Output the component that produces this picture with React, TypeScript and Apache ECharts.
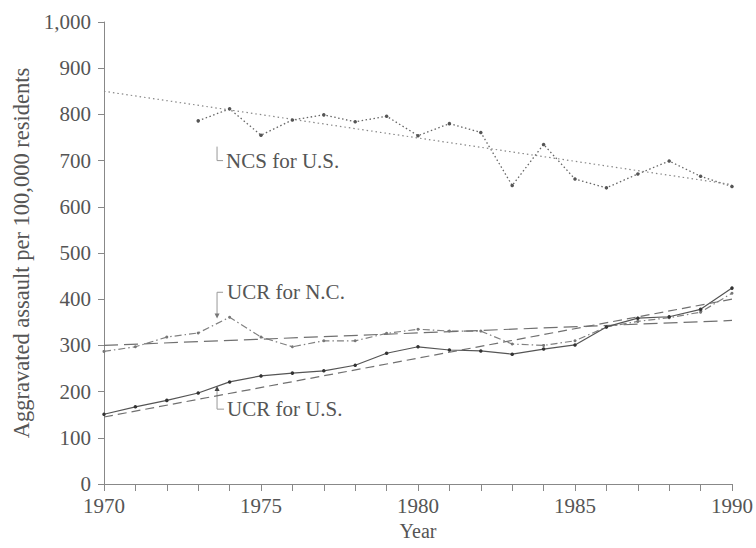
import React, { useEffect, useRef } from "react";
import * as echarts from "echarts";

const years = [1970, 1971, 1972, 1973, 1974, 1975, 1976, 1977, 1978, 1979, 1980, 1981, 1982, 1983, 1984, 1985, 1986, 1987, 1988, 1989, 1990];
const ncsYears = [1973, 1974, 1975, 1976, 1977, 1978, 1979, 1980, 1981, 1982, 1983, 1984, 1985, 1986, 1987, 1988, 1989, 1990];
const ncsUS = [786, 812, 755, 788, 799, 784, 796, 754, 780, 761, 646, 735, 660, 641, 671, 699, 666, 644];
const ucrNC = [287, 297, 318, 327, 361, 318, 297, 310, 310, 326, 335, 331, 331, 303, 300, 310, 340, 352, 360, 372, 413];
const ucrUS = [151, 167, 181, 197, 221, 234, 240, 245, 257, 283, 297, 290, 288, 281, 292, 301, 340, 359, 362, 378, 424];
const ncsTrend = [[1970, 850], [1990, 648]];
const ncTrend = [[1970, 300], [1990, 354]];
const usTrend = [[1970, 145], [1990, 400]];
const yTicks = [0, 100, 200, 300, 400, 500, 600, 700, 800, 900, 1000];

const FONT = "Liberation Serif";
const INK = "#555555";

export default function App() {
  const ref = useRef<HTMLDivElement>(null);
  useEffect(() => {
    if (!ref.current) return;
    const chart = echarts.init(ref.current, null, { renderer: "svg" });
    const option: any = {
      animation: false,
      backgroundColor: "#ffffff",
      textStyle: { fontFamily: FONT },
      grid: { left: 104, right: 21, top: 22, bottom: 64 },
      xAxis: {
        type: "value",
        min: 1970,
        max: 1990,
        interval: 1,
        name: "Year",
        nameLocation: "middle",
        nameGap: 36,
        nameTextStyle: { fontFamily: FONT, fontSize: 20, color: INK },
        axisLine: { lineStyle: { color: "#888", width: 1 } },
        axisTick: { length: 7, lineStyle: { color: "#888" } },
        axisLabel: {
          fontFamily: FONT,
          fontSize: 21,
          color: INK,
          margin: 11,
          formatter: (v: number) => (v % 5 === 0 ? String(v) : ""),
        },
        splitLine: { show: false },
      },
      yAxis: {
        type: "value",
        min: 0,
        max: 1000,
        interval: 100,
        name: "Aggravated assault per 100,000 residents",
        nameLocation: "middle",
        nameGap: 69,
        nameTextStyle: { fontFamily: FONT, fontSize: 22.5, color: INK },
        axisLine: { show: true, lineStyle: { color: "#888", width: 1 } },
        axisTick: { show: true, length: 6, lineStyle: { color: "#888" } },
        axisLabel: {
          fontFamily: FONT,
          fontSize: 21,
          color: INK,
          margin: 13,
          formatter: (v: number) => (yTicks.includes(v) ? v.toLocaleString("en-US") : ""),
        },
        splitLine: { show: false },
      },
      series: [
        {
          name: "NCS for U.S.",
          type: "line",
          data: ncsYears.map((y, i) => [y, ncsUS[i]]),
          symbol: "circle",
          symbolSize: 3.5,
          itemStyle: { color: "#555" },
          lineStyle: { color: "#666", width: 1.3, type: [1.5, 2.5] },
        },
        {
          name: "NCS trend",
          type: "line",
          data: ncsTrend,
          symbol: "none",
          lineStyle: { color: "#888", width: 1.2, type: [1.5, 3] },
        },
        {
          name: "UCR for N.C.",
          type: "line",
          data: years.map((y, i) => [y, ucrNC[i]]),
          symbol: "circle",
          symbolSize: 3,
          itemStyle: { color: "#777" },
          lineStyle: { color: "#808080", width: 1.2, type: [7, 3, 1.5, 3] },
        },
        {
          name: "N.C. trend",
          type: "line",
          data: ncTrend,
          symbol: "none",
          lineStyle: { color: "#707070", width: 1.2, type: [14, 6] },
        },
        {
          name: "UCR for U.S.",
          type: "line",
          data: years.map((y, i) => [y, ucrUS[i]]),
          symbol: "circle",
          symbolSize: 3.5,
          itemStyle: { color: "#333" },
          lineStyle: { color: "#555", width: 1.2, type: "solid" },
        },
        {
          name: "U.S. trend",
          type: "line",
          data: usTrend,
          symbol: "none",
          lineStyle: { color: "#707070", width: 1.2, type: [9, 5] },
        },
      ],
    };
    chart.setOption(option);

    const p = (x: number, y: number) => chart.convertToPixel({ gridIndex: 0 }, [x, y]) as number[];
    const cx = p(1973.6, 0)[0];
    const lineStyle = { stroke: "#999", lineWidth: 1 };
    const txt = (x: number, y: number, s: string) => ({
      type: "text",
      x,
      y,
      style: { text: s, fontFamily: FONT, fontSize: 21, fill: INK, verticalAlign: "middle", align: "left" },
    });
    const ncsLbl = p(1970, 700)[1];
    const ncLbl = p(1970, 415)[1];
    const usLbl = p(1970, 162)[1];
    const ncPeak = p(1974, 358)[1];
    const usPt = p(1974, 212)[1];
    chart.setOption({
      graphic: [
        { type: "line", shape: { x1: cx, y1: ncsLbl - 14, x2: cx, y2: ncsLbl }, style: lineStyle },
        { type: "line", shape: { x1: cx, y1: ncsLbl, x2: cx + 6, y2: ncsLbl }, style: lineStyle },
        txt(cx + 9, ncsLbl, "NCS for U.S."),
        { type: "line", shape: { x1: cx, y1: ncLbl, x2: cx + 6, y2: ncLbl }, style: lineStyle },
        { type: "line", shape: { x1: cx, y1: ncLbl, x2: cx, y2: ncPeak - 4 }, style: lineStyle },
        { type: "polygon", shape: { points: [[cx - 2.5, ncPeak - 5], [cx + 2.5, ncPeak - 5], [cx, ncPeak]] }, style: { fill: "#777" } },
        txt(cx + 10, ncLbl, "UCR for N.C."),
        { type: "line", shape: { x1: cx, y1: usPt + 4, x2: cx, y2: usLbl }, style: lineStyle },
        { type: "line", shape: { x1: cx, y1: usLbl, x2: cx + 7, y2: usLbl }, style: lineStyle },
        { type: "polygon", shape: { points: [[cx - 2.5, usPt + 5], [cx + 2.5, usPt + 5], [cx, usPt]] }, style: { fill: "#444" } },
        txt(cx + 10, usLbl, "UCR for U.S."),
      ],
    });
    return () => chart.dispose();
  }, []);
  return <div ref={ref} style={{ width: 756, height: 548, position: "absolute", left: 0, top: 0 }} />;
}
